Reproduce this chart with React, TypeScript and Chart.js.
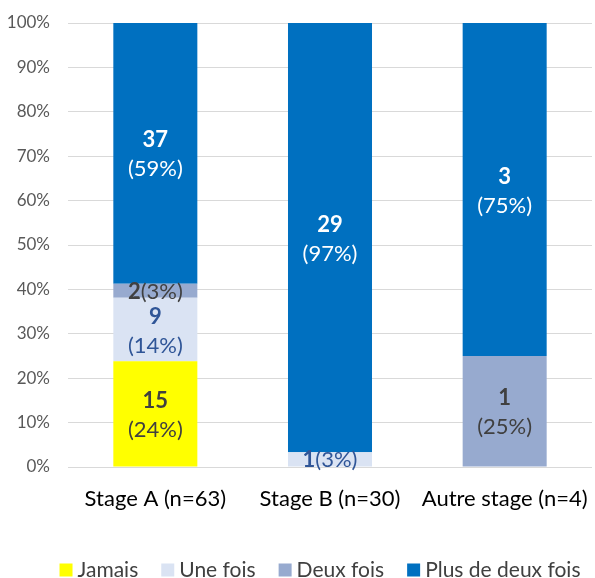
import React, { useEffect, useRef } from "react";
import { Chart, registerables } from "chart.js";

Chart.register(...registerables);

const categories = ["Stage A (n=63)", "Stage B (n=30)", "Autre stage (n=4)"];
const totals = [63, 30, 4];
const seriesNames = ["Jamais", "Une fois", "Deux fois", "Plus de deux fois"];
const jamais = [15, 0, 0];
const uneFois = [9, 1, 0];
const deuxFois = [2, 0, 1];
const plusDeDeux = [37, 29, 3];
const seriesCounts = [jamais, uneFois, deuxFois, plusDeDeux];
const seriesColors = ["#FFFF00", "#DAE3F3", "#97AACF", "#0070C0"];
const labelColors = ["#404040", "#2F5597", "#404040", "#FFFFFF"];
const yTicks = [0, 10, 20, 30, 40, 50, 60, 70, 80, 90, 100];

const FONT = "Lato, 'Open Sans', sans-serif";

const labelPlugin = {
  id: "segLabels",
  afterDatasetsDraw(chart: any) {
    const ctx = chart.ctx;
    ctx.save();
    chart.data.datasets.forEach((ds: any, di: number) => {
      const meta = chart.getDatasetMeta(di);
      meta.data.forEach((el: any, i: number) => {
        const count = seriesCounts[di][i];
        if (!count) return;
        const pct = Math.round((count / totals[i]) * 100);
        const cx = el.x;
        const cy = (el.y + el.base) / 2;
        ctx.fillStyle = labelColors[di];
        ctx.textBaseline = "middle";
        const boldF = `bold 22px ${FONT}`;
        const normF = `22px ${FONT}`;
        const nStr = String(count);
        const pStr = `(${pct}%)`;
        if (pct < 6) {
          ctx.font = boldF;
          const w1 = ctx.measureText(nStr).width;
          ctx.font = normF;
          const w2 = ctx.measureText(pStr).width;
          const x0 = cx - (w1 + w2) / 2;
          ctx.textAlign = "left";
          ctx.font = boldF;
          ctx.fillText(nStr, x0, cy + 1);
          ctx.font = normF;
          ctx.fillText(pStr, x0 + w1, cy + 1);
        } else {
          ctx.textAlign = "center";
          ctx.font = boldF;
          ctx.fillText(nStr, cx, cy - 13);
          ctx.font = normF;
          ctx.fillText(pStr, cx, cy + 16);
        }
      });
    });
    ctx.restore();
  },
};

const legendPlugin = {
  id: "customLegend",
  afterDraw(chart: any) {
    const ctx = chart.ctx;
    ctx.save();
    ctx.font = `21px ${FONT}`;
    const box = 13;
    const gapBox = 5;
    const gapItem = 23;
    const widths = seriesNames.map((n) => ctx.measureText(n).width);
    const total =
      widths.reduce((a, b) => a + b, 0) + seriesNames.length * (box + gapBox) + gapItem * (seriesNames.length - 1);
    let x = 320 - total / 2;
    const y = 570;
    ctx.textBaseline = "middle";
    ctx.textAlign = "left";
    seriesNames.forEach((n, i) => {
      ctx.fillStyle = seriesColors[i];
      ctx.fillRect(x, y - box / 2, box, box);
      x += box + gapBox;
      ctx.fillStyle = "#404040";
      ctx.fillText(n, x, y);
      x += widths[i] + gapItem;
    });
    ctx.restore();
  },
};

export default function App() {
  const ref = useRef<HTMLCanvasElement>(null);
  useEffect(() => {
    if (!ref.current) return;
    const chart = new Chart(ref.current, {
      type: "bar",
      data: {
        labels: categories,
        datasets: seriesNames.map((name, di) => ({
          label: name,
          data: seriesCounts[di].map((c, i) => (c / totals[i]) * 100),
          backgroundColor: seriesColors[di],
          borderWidth: 0,
          categoryPercentage: 1,
          barPercentage: 0.481,
        })),
      },
      options: {
        animation: false,
        responsive: false,
        devicePixelRatio: 1,
        layout: { padding: { top: 23, right: 3, left: 0, bottom: 0 } },
        plugins: { legend: { display: false }, tooltip: { enabled: false } },
        scales: {
          x: {
            stacked: true,
            grid: { display: false },
            border: { display: false },
            ticks: { color: "#000000", font: { family: FONT, size: 22 }, padding: 11, maxRotation: 0 },
            afterFit: (s: any) => {
              s.height = 111;
              s.paddingLeft = 0;
              s.paddingRight = 0;
            },
          },
          y: {
            stacked: true,
            min: 0,
            max: 100,
            afterBuildTicks: (s: any) => {
              s.ticks = yTicks.map((v) => ({ value: v }));
            },
            grid: { color: "#D9D9D9", drawTicks: false, lineWidth: 1 },
            border: { display: false },
            ticks: {
              color: "#595959",
              font: { family: FONT, size: 17 },
              padding: 18,
              callback: (v: any) => `${v}%`,
            },
            afterFit: (s: any) => {
              s.width = 68;
              s.paddingTop = 0;
              s.paddingBottom = 0;
            },
          },
        },
      },
      plugins: [labelPlugin, legendPlugin],
    });
    return () => chart.destroy();
  }, []);
  return (
    <div style={{ position: "fixed", left: 0, top: 0, width: 595, height: 578, background: "#fff" }}>
      <canvas ref={ref} width={595} height={578} />
    </div>
  );
}
